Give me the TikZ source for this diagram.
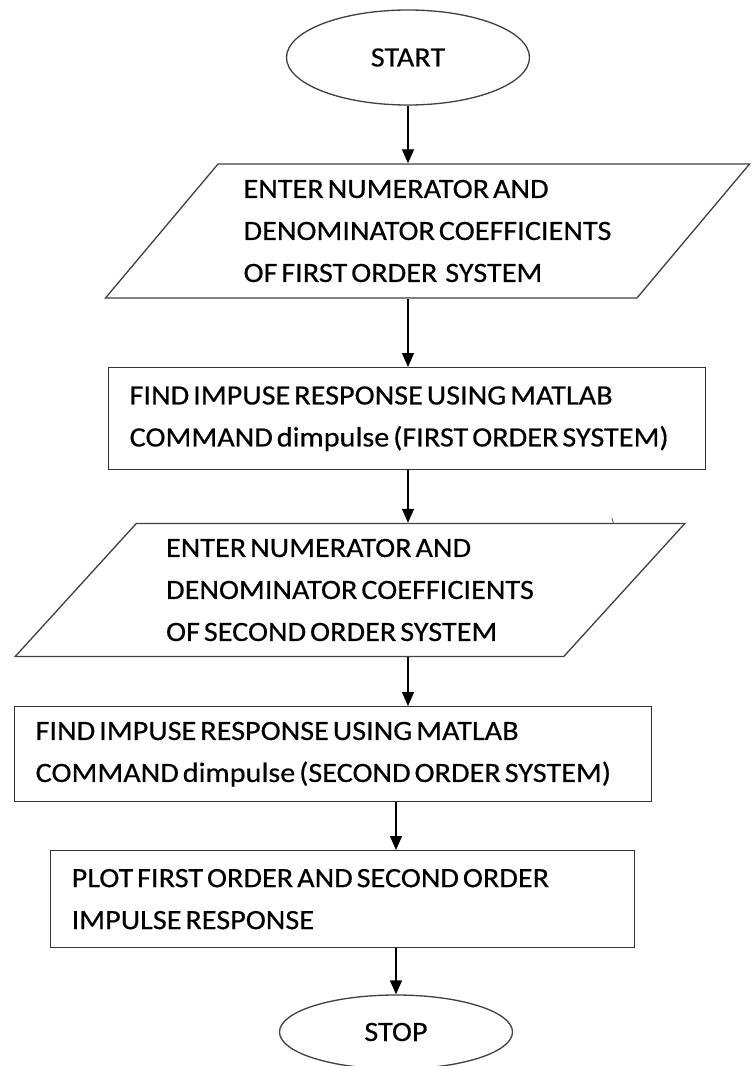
\documentclass[tikz,border=0pt]{standalone}
\usepackage{fontspec}
\setmainfont{Carlito}[FakeStretch=1.08, FakeBold=0.4]
\usetikzlibrary{shapes.geometric,arrows.meta}
% a line of box text padded to a fixed width
\newcommand{\padline}[2]{\makebox[#1][l]{#2}}
\newcommand{\chartfont}{\fontsize{28}{42}\selectfont\spaceskip=0.14em\relax}
\begin{document}
\begin{tikzpicture}[x=1pt,y=-1pt,
  every node/.style={font=\chartfont},
  term/.style={ellipse, draw=black!75, line width=1.3pt, inner sep=0pt},
  io/.style={trapezium, trapezium stretches=true, draw=black!75,
    line width=1.3pt, align=left, inner sep=0pt},
  proc/.style={rectangle, draw=black!80, line width=1.3pt, align=left,
    inner xsep=21pt, inner ysep=0pt, anchor=north west},
  arr/.style={draw=black, line width=1.3pt, -{Triangle[length=14pt,width=12pt]}}]
\useasboundingbox (0,0) rectangle (753,1066);
\fill[white] (0,0) rectangle (753,1066);

% terminals
\node[term, minimum width=243pt, minimum height=95pt] (start) at (408,57.5) {START};
\node[term, minimum width=233pt, minimum height=74pt] (stop) at (396,1032) {STOP};

% input blocks
\node[io, trapezium left angle=46, trapezium right angle=134,
      minimum width=649pt, minimum height=134pt] (p1) at (427.5,231)
  {ENTER NUMERATOR AND\\DENOMINATOR COEFFICIENTS\\OF FIRST ORDER\ \ SYSTEM};
\node[io, trapezium left angle=44.5, trapezium right angle=135.5,
      minimum width=674pt, minimum height=133pt] (p2) at (350,590)
  {ENTER NUMERATOR AND\\DENOMINATOR COEFFICIENTS\\OF SECOND ORDER SYSTEM};

% process blocks
\node[proc, minimum height=102pt] (b1) at (108,367)
  {\padline{555pt}{FIND IMPUSE RESPONSE USING MATLAB}\\COMMAND dimpulse (FIRST ORDER SYSTEM)};
\node[proc, minimum height=95pt] (b3) at (14,706)
  {\padline{595pt}{FIND IMPUSE RESPONSE USING MATLAB}\\COMMAND dimpulse (SECOND ORDER SYSTEM)};
\node[proc, minimum height=97pt] (b4) at (50,850)
  {\padline{542pt}{PLOT FIRST ORDER AND SECOND ORDER}\\IMPULSE RESPONSE};

% small stroke on the top edge of the second input block
\draw[line width=0.7pt, black!70] ([xshift=-73pt]p2.top right corner) -- ++(-1.5,-5);

% flow
\draw[arr] (start.south) -- (start.south |- p1.north);
\draw[arr] (start.south |- p1.south) -- (start.south |- b1.north);
\draw[arr] (start.south |- b1.south) -- (start.south |- p2.north);
\draw[arr] (start.south |- p2.south) -- (start.south |- b3.north);
\draw[arr] (stop.north |- b3.south) -- (stop.north |- b4.north);
\draw[arr] (stop.north |- b4.south) -- (stop.north);
\end{tikzpicture}
\end{document}
